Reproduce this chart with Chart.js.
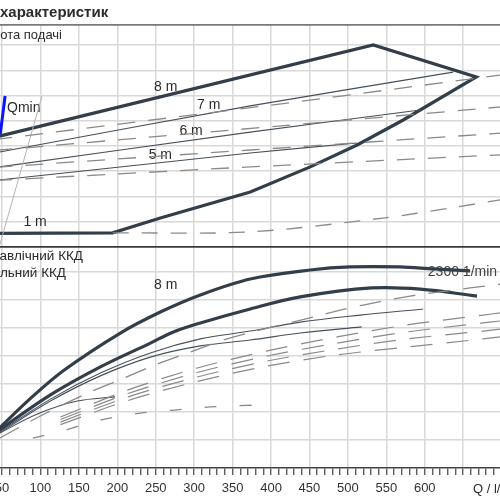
<!DOCTYPE html>
<html>
<head>
<meta charset="utf-8">
<script src="https://cdn.jsdelivr.net/npm/chart.js@4/dist/chart.umd.min.js"></script>
<style>
  html, body { margin: 0; padding: 0; background: #fff; }
  #wrap { position: relative; width: 500px; height: 500px; overflow: hidden; }
  #chart { position: absolute; left: -60px; top: 0; }
</style>
</head>
<body>
<div id="wrap"><canvas id="chart" width="600" height="510"></canvas></div>
<script>
// flow Q, l/min (x axis)
const qMin = 0, qMax = 700;
const qLabels = [50, 100, 150, 200, 250, 300, 350, 400, 450, 500, 550, 600];

// upper panel: head, grid lines
const headGrid = [0, 1, 2, 3, 4, 5, 6, 7, 8, 8.8];
// lower panel: efficiency %, grid lines
const effGrid = [10, 20, 30, 40, 50, 60, 70];

// operating range outline (thick)
const rangeQ = [40, 533, 667, 572, 512, 451, 373, 256, 194, 40];
const rangeH = [4.34, 8.01, 6.74, 5.03, 4.04, 3.17, 2.17, 1.14, 0.55, 0.53];
// Qmin marker
const qminQ = [54, 47.4];
const qminH = [5.98, 4.40];
// thin grey line
const sysQ = [102, 46.4];
const sysH = [5.98, 0];
// head curves inside the range
const h7Q = [40, 373, 637], h7H = [3.72, 5.59, 6.93];
const h6Q = [40, 373, 594], h6H = [3.14, 4.55, 5.43];
const h5Q = [40, 373, 512], h5H = [2.63, 3.72, 4.12];
// dashed head curves
const daQ = [40, 421, 700], daH = [4.25, 5.70, 6.82];
const dbQ = [40, 700], dbH = [3.82, 5.55];
const dcQ = [40, 373, 700], dcH = [3.15, 3.84, 4.51];
const ddQ = [40, 373, 700], ddH = [2.63, 3.17, 3.65];
const deQ = [194, 373, 546, 633, 700], deH = [0.55, 0.59, 1.14, 1.54, 1.87];

// lower panel curves (efficiency)
const t1Q = [40, 47, 86, 131, 204, 256, 308, 373, 451, 503, 568, 611, 659];
const t1E = [12.1, 14.3, 24.6, 35.0, 48.2, 55.7, 61.8, 67.5, 70.7, 71.8, 71.8, 71.1, 70.4];
const t2Q = [40, 47, 113, 178, 243, 273, 308, 373, 438, 531, 594, 668];
const t2E = [11.8, 13.6, 26.1, 36.1, 44.6, 48.6, 51.8, 56.8, 61.1, 64.3, 63.9, 61.4];
const s1Q = [40, 47, 113, 178, 243, 308, 373, 438, 516, 598];
const s1E = [11.4, 12.9, 24.6, 33.9, 41.1, 46.1, 48.9, 52.1, 54.6, 56.8];
const s2Q = [40, 47, 113, 178, 243, 308, 373, 438, 518];
const s2E = [11.1, 12.5, 23.9, 32.9, 39.6, 43.6, 45.7, 48.2, 50.4];
const s3Q = [40, 47, 99, 148, 197];
const s3E = [11.4, 12.5, 19.6, 23.9, 25.4];
// dashed efficiency curves
const aQ = [47, 105, 162, 206, 249, 292, 338, 386, 440, 490, 520, 581, 659, 700];
const aE = [10.7, 19.3, 26.8, 31.8, 36.8, 41.1, 45.7, 49.3, 52.9, 56.4, 58.2, 61.4, 64.3, 65.7];
const lQ = [90, 128, 178, 230, 275, 321, 383];
const lE = [10.7, 13.2, 17.1, 19.6, 20.7, 21.8, 22.5];
const bQ = [126, 214, 304, 395, 486, 577, 676, 698];
const b0E = [18.2, 27.9, 35.7, 41.8, 46.8, 51.1, 54.6, 55.4];
const b1E = [17.3, 26.6, 34.1, 40.0, 44.6, 48.6, 51.8, 52.5];
const b2E = [16.4, 25.4, 32.5, 38.2, 42.5, 46.1, 48.9, 49.6];
const b3E = [15.5, 24.1, 30.9, 36.4, 40.4, 43.2, 46.1, 46.8];

// curve labels
const headLabels = ['8 m', '7 m', '6 m', '5 m', '1 m'];
const headLabelQ = [263, 319, 296, 256, 93];
const headLabelH = [6.34, 5.63, 4.59, 3.64, 0.98];
const effLabels = ['8 m'];
const effLabelQ = [263];
const effLabelE = [65.4];
const speedLabel = '2300 1/min';
const speedQ = 604, speedE = 70.0;

const THICK = '#323e49', THIN = '#46515b', DASH = '#8a8a8a';
const FONT = '"Liberation Sans", Arial, sans-serif';

function pts(xs, ys) {
    return xs.map((x, i) => ({ x: x, y: ys[i] }));
}

function line(xs, ys, axis, color, width, dash, tension) {
    return {
        data: pts(xs, ys),
        yAxisID: axis,
        borderColor: color,
        borderWidth: width,
        borderDash: dash || [],
        tension: tension || 0,
        pointRadius: 0,
        fill: false,
    };
}

const datasets = [
    line(daQ, daH, 'yH', DASH, 1.3, [18, 13]),
    line(dbQ, dbH, 'yH', DASH, 1.3, [18, 13]),
    line(dcQ, dcH, 'yH', DASH, 1.3, [18, 13]),
    line(ddQ, ddH, 'yH', DASH, 1.3, [18, 13]),
    line(deQ, deH, 'yH', DASH, 1.3, [16, 13], 0.3),
    line(sysQ, sysH, 'yH', '#b4b4b4', 1),
    line(h7Q, h7H, 'yH', THIN, 1.1, null, 0.2),
    line(h6Q, h6H, 'yH', THIN, 1.1, null, 0.2),
    line(h5Q, h5H, 'yH', THIN, 1.1, null, 0.2),
    line(rangeQ, rangeH, 'yH', THICK, 3.2),
    line(qminQ, qminH, 'yH', '#0a14ff', 3),

    line(aQ, aE, 'yE', DASH, 1.3, [22, 13], 0.3),
    line(lQ, lE, 'yE', DASH, 1.3, [12, 23], 0.3),
    line(bQ, b0E, 'yE', DASH, 1.2, [22, 14], 0.3),
    line(bQ, b1E, 'yE', DASH, 1.2, [22, 14], 0.3),
    line(bQ, b2E, 'yE', DASH, 1.2, [22, 14], 0.3),
    line(bQ, b3E, 'yE', DASH, 1.2, [22, 14], 0.3),
    line(s3Q, s3E, 'yE', THIN, 1.1, null, 0.35),
    line(s2Q, s2E, 'yE', THIN, 1.1, null, 0.35),
    line(s1Q, s1E, 'yE', THIN, 1.1, null, 0.35),
    line(t2Q, t2E, 'yE', THICK, 3.2, null, 0.35),
    line(t1Q, t1E, 'yE', THICK, 3.2, null, 0.35),
];

const textPlugin = {
    id: 'texts',
    beforeDatasetsDraw(chart) {
        const ctx = chart.ctx;
        const x = chart.scales.x, yH = chart.scales.yH, yE = chart.scales.yE;
        ctx.save();
        ctx.textBaseline = 'middle';
        ctx.fillStyle = '#2b2b2b';

        // panel captions
        ctx.font = 'bold 15px ' + FONT;
        ctx.textAlign = 'left';
        ctx.fillText('характеристик', 60, 13);

        ctx.font = '13px ' + FONT;
        ctx.textAlign = 'right';
        ctx.fillText('Висота подачі', 122, 35);
        ctx.font = '13.5px ' + FONT;
        ctx.fillText('Гідравлічний ККД', 143, 256);
        ctx.fillText('Загальний ККД', 126, 273);
        ctx.font = '13px ' + FONT;
        ctx.textAlign = 'left';
        ctx.fillText('Q / l/min', 533, 489);

        ctx.font = '14px ' + FONT;
        ctx.textAlign = 'center';
        headLabels.forEach((t, i) => {
            ctx.fillText(t, x.getPixelForValue(headLabelQ[i]), yH.getPixelForValue(headLabelH[i]));
        });
        effLabels.forEach((t, i) => {
            ctx.fillText(t, x.getPixelForValue(effLabelQ[i]), yE.getPixelForValue(effLabelE[i]));
        });
        ctx.textAlign = 'left';
        ctx.fillText('Qmin', x.getPixelForValue(56.5), yH.getPixelForValue(5.51));
        ctx.fillStyle = '#444';
        ctx.fillText(speedLabel, x.getPixelForValue(speedQ), yE.getPixelForValue(speedE));
        ctx.restore();
    },
};

new Chart(document.getElementById('chart'), {
    type: 'line',
    data: { datasets: datasets },
    options: {
        responsive: false,
        devicePixelRatio: 1,
        animation: false,
        events: [],
        layout: { padding: { left: 23.6, right: 38.4, top: 25, bottom: 7.4 } },
        plugins: { legend: { display: false }, tooltip: { enabled: false } },
        scales: {
            x: {
                type: 'linear',
                min: qMin,
                max: qMax,
                ticks: {
                    stepSize: 10,
                    autoSkip: false,
                    maxRotation: 0,
                    padding: 6,
                    color: '#333',
                    font: { size: 13, family: FONT },
                    callback: v => (qLabels.includes(v) ? String(v) : ''),
                },
                grid: {
                    color: c => (c.tick && c.tick.value % 50 === 0 ? '#d8d8d8' : 'rgba(0,0,0,0)'),
                    lineWidth: 1.5,
                    tickLength: 7,
                    tickColor: '#444',
                    tickWidth: 1.2,
                },
                border: { display: true, color: '#444', width: 1.5 },
            },
            yH: {
                type: 'linear',
                position: 'left',
                min: -8.78,
                max: 8.8,
                afterBuildTicks: s => { s.ticks = headGrid.map(v => ({ value: v })); },
                ticks: { display: false },
                grid: {
                    drawTicks: false,
                    lineWidth: c => (c.tick && (c.tick.value === 0 || c.tick.value === 8.8) ? 1.8 : 1.5),
                    color: c => {
                        const v = c.tick ? c.tick.value : -1;
                        if (v === 0) return '#3a3a3a';
                        if (v === 8.8) return '#7a7a7a';
                        return '#d8d8d8';
                    },
                },
                border: { display: false },
            },
            yE: {
                type: 'linear',
                position: 'left',
                min: 0,
                max: 158.2,
                afterBuildTicks: s => { s.ticks = effGrid.map(v => ({ value: v })); },
                ticks: { display: false },
                grid: { drawTicks: false, color: '#d8d8d8', lineWidth: 1.5 },
                border: { display: false },
            },
        },
    },
    plugins: [textPlugin],
});
</script>
</body>
</html>
